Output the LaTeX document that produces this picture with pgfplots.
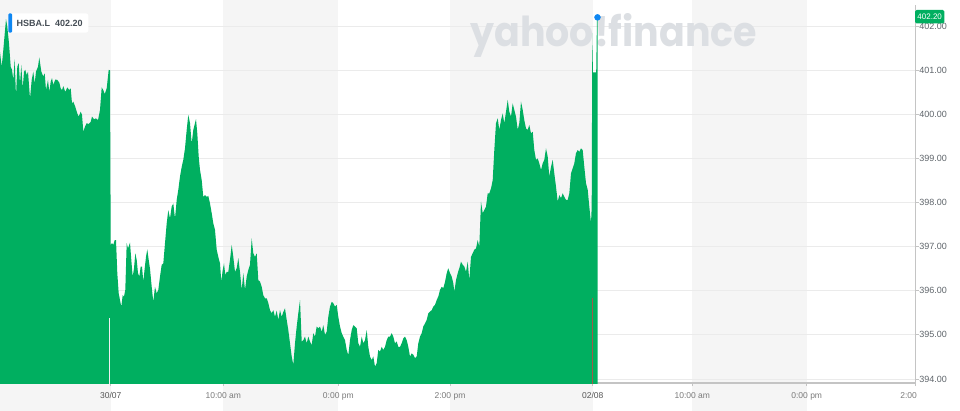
\documentclass[border=0pt]{standalone}
\usepackage{fontspec}
\setmainfont{Liberation Sans}
\newfontfamily\wmfont{Poppins}
\usepackage{graphicx}
\usepackage{pgfplots}
\pgfplotsset{compat=1.18}
\usepackage{pgfplotstable}
\definecolor{yfgreen}{HTML}{00AF60}
\definecolor{band}{HTML}{F5F5F5}
\definecolor{gridc}{HTML}{EBEBEB}
\definecolor{axc}{HTML}{C4C4C4}
\definecolor{ticklab}{HTML}{5F656B}
\definecolor{xlab}{HTML}{7A7A7A}
\definecolor{datelab}{HTML}{555555}
\definecolor{yblue}{HTML}{0F87F2}
\definecolor{wm}{HTML}{DCDFE3}
\definecolor{boxtext}{HTML}{464E56}
\definecolor{volred}{HTML}{9C5B4A}

\pgfplotstableread{
x y
-1 393.5
-1 401.61
1.7 401.08
3.3 401.46
6 402.16
7.3 401.99
9 401.61
10.7 401.08
12 401.01
13.3 400.78
14.7 401.25
16 400.40
17.3 401.08
18.7 401.16
20 400.70
21.3 401.12
22.7 400.59
24 400.97
25.3 401.01
26.7 400.89
28 400.97
30 400.36
31.7 400.78
33.3 400.97
34.7 400.70
36 400.97
38 401.08
39.3 401.29
41.3 400.97
43.3 400.86
44.7 400.93
46 400.55
48 400.78
49.3 400.51
50.7 400.74
52 400.82
53.3 400.67
55.3 400.79
57.3 400.78
59.3 400.72
60.7 400.59
62 400.55
63.3 400.64
65.3 400.51
67.3 400.61
69.3 400.55
70.7 400.59
72 400.25
73.3 400.29
75.3 400.17
77.3 400.02
78.7 399.95
80.7 400.06
82 399.99
83.3 399.61
85 399.72
86.7 399.80
88.7 399.78
90.7 399.83
92 399.95
94 399.89
96 399.91
98 399.87
100 400.10
101.7 400.61
103.3 400.55
104.7 400.46
106.7 400.59
108.7 401.01
110 401.00
110.7 397.04
112 397.08
113.3 397.04
114.7 397.15
116 397.15
117.3 396.40
118.7 395.94
120 395.79
121.3 395.64
122.7 395.90
124 395.87
125.3 396.02
126.7 397.08
128 396.96
130 397.09
131.3 396.70
132.7 396.32
134 396.51
135.3 396.85
136.7 396.70
138 396.40
139.3 396.32
140.7 396.55
142 396.55
143.3 396.21
144.7 396.51
146 396.77
147.3 396.94
148.7 396.70
150 396.50
151.7 396.09
153.3 395.75
155 396.09
156.7 395.94
158.3 396.02
160 396.32
161.7 396.59
163.3 396.62
165 397.08
166.7 397.53
168.3 397.83
170 397.64
171.7 397.91
173.3 397.98
175 397.64
176.7 398.06
178.3 398.29
180 398.59
181.7 398.81
183.3 398.97
185 399.23
186.7 399.65
188.3 399.99
190 399.80
191.7 399.34
193.3 399.65
195 399.80
196 399.89
197.3 399.57
198.7 399.04
200 398.74
201.7 398.51
203.3 398.13
205 398.17
206.7 398.13
208.3 398.15
210 397.98
211.7 397.76
213.3 397.53
215 397.38
216.7 396.93
218.3 396.77
220 396.62
221.3 396.21
222.7 396.47
224 396.62
225.3 396.36
226.7 396.43
228.3 396.43
230 396.70
231.7 397.04
233.3 396.77
235 396.43
236.7 396.51
238.3 396.74
240 396.43
241.7 396.02
243.3 396.40
245 396.02
246.7 396.32
248.3 396.47
250 396.59
251.7 397.19
253.3 396.85
255 396.77
256.7 396.85
258.3 396.24
260 396.21
261.7 396.09
263.3 395.90
265 395.83
266.7 395.83
268.3 395.72
270 395.56
271.7 395.49
273.3 395.56
275 395.41
276.7 395.55
278.3 395.34
280 395.56
281.7 395.41
283.3 395.52
285 395.60
286.7 395.34
288.3 395.11
290 394.81
291.7 394.51
293.3 394.32
295 394.81
296.7 395.19
298.3 395.49
300 395.79
301.7 394.85
303.3 394.88
305 394.96
306.7 394.81
308.3 394.96
310 394.85
311.7 394.77
313.3 395.04
315 394.96
316.7 395.19
318.3 395.15
320 395.19
321.7 395.07
323.3 395.22
325 395.00
326.7 395.07
328.3 395.41
330 395.64
331.7 395.75
333.3 395.72
335 395.64
336.7 395.68
338.3 395.41
340 395.19
341.7 395.04
343.3 394.96
345 394.88
346.7 394.66
348.3 394.54
350 394.88
351.7 395.11
353.3 395.22
355 395.19
356.7 395.15
358.3 394.81
360 394.73
361.7 394.96
363.3 394.81
365 394.88
366.7 395.11
368.3 394.73
370 394.51
371.7 394.43
373.3 394.51
375 394.28
376.7 394.36
378.3 394.66
380 394.62
381.7 394.73
383.3 394.66
385 394.73
386.7 394.88
388.3 394.96
390 394.96
391.7 395.04
393.3 394.96
395 394.81
396.7 394.85
398.3 394.73
400 394.73
401.7 394.81
403.3 394.92
405 394.96
406.7 394.88
408.3 394.73
410 394.51
411.7 394.58
413.3 394.55
415 394.47
416.7 394.51
418.3 394.81
420 394.96
421.7 395.04
423.3 395.19
425 395.26
426.7 395.34
428.3 395.49
430 395.53
431.7 395.56
433.3 395.64
435 395.68
436.7 395.79
438.3 395.87
440 396.02
441.7 396.09
443.3 396.06
445 396.20
446.7 396.40
448.3 396.51
450 396.40
451.7 396.32
453.3 396.17
454.3 395.98
456 396.24
457.7 396.40
459.3 396.51
461 396.66
462.7 396.59
464.3 396.55
466 396.43
467.7 396.66
469.3 396.24
471 396.77
472.7 396.85
474.3 396.93
476 396.96
477.7 397.15
479.3 397.00
481 398.02
482.7 397.76
484.3 397.83
486 397.91
487.7 398.21
489.3 398.21
491 398.32
492.7 398.51
494.3 399.19
496 399.80
497.7 399.91
499.3 399.65
501 399.87
502.7 400.02
504.3 399.80
506 400.06
507.7 400.33
509.3 400.06
511 399.95
512.7 400.25
514.3 400.10
516 399.95
517.7 399.65
519.3 399.80
521 400.29
522.7 400.10
524.3 399.87
526 399.68
527.7 399.65
529.3 399.76
531 399.57
532.7 399.61
534.3 399.19
536 398.97
537.7 399.00
539.3 398.89
541 398.74
542.7 398.89
544.3 398.97
546 399.23
547.7 399.04
549.3 398.59
551 398.81
552.7 398.97
554.3 398.66
556 398.36
557.7 398.02
559.3 398.17
561 398.10
562.7 398.21
564.3 398.13
566 398.06
567.7 398.06
569.3 398.21
571 398.66
572.7 398.78
574.3 398.89
576 399.12
577.7 399.19
579.3 399.15
581 399.23
582.7 399.19
584.3 398.81
586 398.44
587.7 398.29
589.3 397.91
591 397.53
591.7 397.90
592.3 401.85
592.9 400.95
596.2 400.95
597.0 402.20
597.5 402.20
597.5 393.5
}\pricedata

\begin{document}
\begin{tikzpicture}[x=1pt,y=1pt]
\begin{axis}[
  set layers,
  at={(0pt,0pt)}, anchor=south west,
  scale only axis, width=915.7pt, height=378pt,
  xmin=0, xmax=915.7, ymin=393.909, ymax=402.48,
  axis x line*=bottom, axis y line*=right,
  axis line style={-, draw=axc, line width=1.2pt},
  xtick={110.7,223.3,338.3,450,592.7,692.3,806.7,915.7},
  xticklabels={\textcolor{datelab}{30/07},10:00 am,0:00 pm,2:00 pm,\textcolor{datelab}{02/08},10:00 am,0:00 pm,2:00 pm},
  ytick={394,395,...,402},
  ymajorgrids,
  major grid style={draw=gridc, line width=0.8pt},
  tick align=outside, major tick length=3pt,
  tick style={draw=axc, line width=0.8pt},
  xticklabel style={font=\fontsize{8.5}{10}\selectfont, text=xlab, inner sep=0pt, anchor=base, yshift=-12pt},
  yticklabel style={font=\fontsize{9}{10}\selectfont, text=ticklab, inner sep=0pt, anchor=west, xshift=0.5pt},
  /pgf/number format/.cd, fixed, fixed zerofill, precision=2, assume math mode=true,
  /pgfplots/.cd,
]
% session shading bands
\addplot[on layer=axis background, fill=band, draw=none] coordinates {(0,393) (0,403) (110.7,403) (110.7,393)};
\addplot[on layer=axis background, fill=band, draw=none] coordinates {(223.3,393) (223.3,403) (338.3,403) (338.3,393)};
\addplot[on layer=axis background, fill=band, draw=none] coordinates {(450,393) (450,403) (592.7,403) (592.7,393)};
\addplot[on layer=axis background, fill=band, draw=none] coordinates {(692.3,393) (692.3,403) (806.7,403) (806.7,393)};
% watermark
\node[anchor=base west, inner sep=0pt, text=wm] at (axis cs:470,401.55) {\resizebox{287pt}{33pt}{\wmfont\bfseries yahoo!finance}};
% price area
\addplot[fill=yfgreen, draw=none] table[x=x, y=y] {\pricedata};
% volume marks
\addplot[draw=white!88!gray, line width=0.8pt] coordinates {(109.3,393.5) (109.3,395.38)};
\addplot[draw=volred, line width=0.8pt] coordinates {(592.7,393.5) (592.7,395.84)};
% last point
\addplot[only marks, mark=*, mark size=3pt, color=yblue] coordinates {(597.5,402.2)};
\end{axis}
% ticker box
\fill[white, rounded corners=2.5pt] (8.3,350.3) rectangle (88.3,369.7);
\fill[yblue, rounded corners=1.2pt] (8.3,350.3) rectangle (12.2,369.7);
\node[anchor=west, inner sep=0pt, text=boxtext, font=\bfseries\fontsize{9}{10}\selectfont] at (16.5,359.5) {HSBA.L\ \ 402.20};
% price tag
\fill[yfgreen, rounded corners=1.5pt] (915,359.5) rectangle (944.3,373);
\node[text=white, inner sep=0pt, font=\fontsize{8}{9}\selectfont] at (929.7,366.2) {402.20};
% clip the last x label
\fill[white] (916.8,-27) rectangle (960,-4);
\pgfresetboundingbox
\path (0,-27) rectangle (960,383);
\end{tikzpicture}
\end{document}
